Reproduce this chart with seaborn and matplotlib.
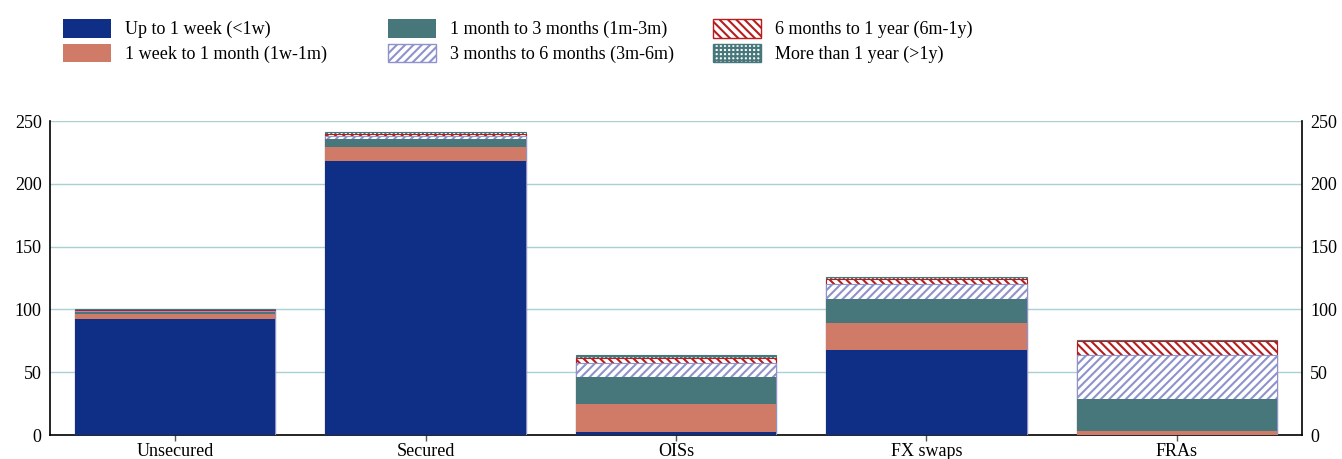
import numpy as np
import pandas as pd
import matplotlib
matplotlib.use("Agg")
import matplotlib.pyplot as plt
import matplotlib.patches as mpatches
import seaborn as sns

# Turnover by instrument and maturity bucket
categories = ["Unsecured", "Secured", "OISs", "FX swaps", "FRAs"]
up_to_1w = [92.0, 218.0, 2.0, 68.0, 0.0]
w1_to_m1 = [4.0, 11.5, 22.5, 21.5, 3.0]
m1_to_m3 = [2.0, 6.5, 21.5, 19.0, 26.0]
m3_to_m6 = [1.0, 2.0, 11.5, 11.5, 34.5]
m6_to_y1 = [0.5, 1.5, 4.0, 4.0, 11.5]
over_1y = [0.5, 2.0, 2.5, 1.5, 0.3]

series_labels = [
    "Up to 1 week (<1w)",
    "1 week to 1 month (1w-1m)",
    "1 month to 3 months (1m-3m)",
    "3 months to 6 months (3m-6m)",
    "6 months to 1 year (6m-1y)",
    "More than 1 year (>1y)",
]
yticks = [0, 50, 100, 150, 200, 250]

sns.set_theme(style="white")
plt.rcParams["font.family"] = ["Liberation Serif", "DejaVu Serif"]
plt.rcParams["hatch.linewidth"] = 1.5

BLUE = "#0f2f87"
SALMON = "#d07a68"
TEAL = "#48777b"
LAVENDER = "#8e93cb"
RED = "#b81c1c"
GRID = "#a9d0d3"

# (face, edge/hatch colour, hatch)
styles = [
    (BLUE, BLUE, None),
    (SALMON, SALMON, None),
    (TEAL, TEAL, None),
    ("white", LAVENDER, "////"),
    ("white", RED, "\\\\\\\\"),
    ("white", TEAL, "++++"),
]

values = np.array([up_to_1w, w1_to_m1, m1_to_m3, m3_to_m6, m6_to_y1, over_1y])
cum = np.cumsum(values, axis=0)

fig = plt.figure(figsize=(13.42, 4.59), dpi=100)
ax = fig.add_axes([50 / 1342, 1 - 435 / 459, 1252 / 1342, 314 / 459])

# Stack by drawing cumulative totals from the top layer down
for k in range(len(series_labels) - 1, -1, -1):
    face, edge, hatch = styles[k]
    df = pd.DataFrame({"category": categories, "value": cum[k]})
    kws = dict(edgecolor=edge, linewidth=0.8 if hatch else 0)
    if hatch:
        kws["hatch"] = hatch
    sns.barplot(data=df, x="category", y="value", order=categories,
                color=face, saturation=1, width=0.8, ax=ax, zorder=3, **kws)

ax.set_xlim(-0.5, 4.5)
ax.set_ylim(0, 250)
ax.set_yticks(yticks)
ax.set_xlabel("")
ax.set_ylabel("")
ax.yaxis.grid(True, color=GRID, linewidth=1.0, zorder=0)
ax.set_axisbelow(True)

for side in ["left", "right", "bottom"]:
    ax.spines[side].set_visible(True)
    ax.spines[side].set_color("black")
    ax.spines[side].set_linewidth(1.2)
ax.spines["top"].set_visible(False)

ax.tick_params(axis="y", left=False, right=False, labelleft=True,
               labelright=True, labelsize=13, colors="black", length=0,
               pad=6)
ax.tick_params(axis="x", bottom=True, length=4, width=1, color="#555555",
               labelsize=13, labelcolor="black", pad=2)

# Legend in three fixed columns above the plot
handles = []
for (face, edge, hatch), lab in zip(styles, series_labels):
    if hatch:
        handles.append(mpatches.Patch(facecolor=face, edgecolor=edge,
                                      hatch=hatch, linewidth=1.0, label=lab))
    else:
        handles.append(mpatches.Patch(facecolor=face, edgecolor=face,
                                      linewidth=0, label=lab))

col_x = [63, 388, 713]
for i, x0 in enumerate(col_x):
    leg = fig.legend(handles=handles[2 * i:2 * i + 2], loc="upper left",
                     bbox_to_anchor=(x0 / 1342, 1 - 19 / 459),
                     frameon=False, fontsize=13, handlelength=2.66,
                     handleheight=1.2, handletextpad=0.75,
                     labelspacing=0.3, borderpad=0, borderaxespad=0)
    for t in leg.get_texts():
        t.set_color("black")

fig.savefig("out.png", dpi=100, facecolor="white")
